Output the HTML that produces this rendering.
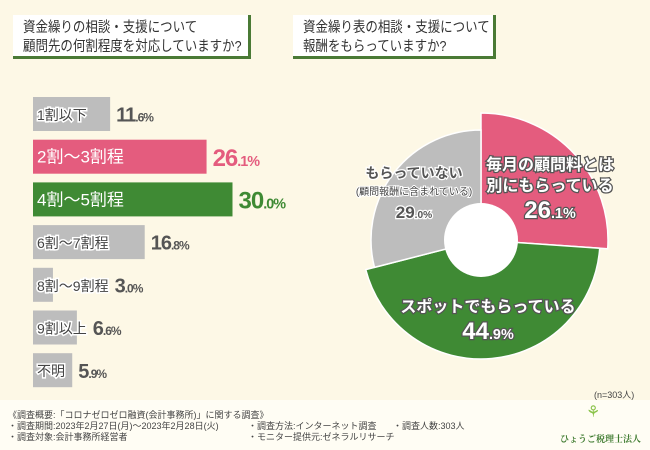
<!DOCTYPE html>
<html><head><meta charset="utf-8"><style>
body{margin:0;width:650px;height:450px;overflow:hidden;font-family:"Liberation Sans","Noto Sans CJK JP",sans-serif;}
#wrap{position:relative;width:650px;height:450px;background:#fdf8e6;}
.tbox{position:absolute;background:#fff;border-right:3px solid #4a7a35;border-bottom:3px solid #4a7a35;color:#333;font-size:14.5px;line-height:19px;padding:4px 0 0 10px;box-sizing:border-box;white-space:nowrap;overflow:hidden;}
.tbox span{display:inline-block;transform:scaleX(0.86);transform-origin:left;}
#footer{position:absolute;left:0;top:400px;width:650px;height:50px;background:#fffdf4;font-size:9px;color:#444;}
.f{position:absolute;white-space:nowrap;}
</style></head><body>
<div id="wrap">
<div class="tbox" style="left:13px;top:15px;width:238px;height:44px"><span>資金繰りの相談・支援について</span><br><span>顧問先の何割程度を対応していますか?</span></div>
<div class="tbox" style="left:293px;top:15px;width:203px;height:44px"><span>資金繰り表の相談・支援について</span><br><span>報酬をもらっていますか?</span></div>
<svg id="chart" width="650" height="400" style="position:absolute;left:0;top:0"></svg>
<div id="footer">
<div class="f" style="left:594px;top:-12px;font-size:9px">(n=303人)</div>
<div class="f" style="left:8px;top:8px">《調査概要:「コロナゼロゼロ融資(会計事務所)」に関する調査》</div>
<div class="f" style="left:8px;top:19px">・調査期間:2023年2月27日(月)〜2023年2月28日(火)</div>
<div class="f" style="left:8px;top:30px">・調査対象:会計事務所経営者</div>
<div class="f" style="left:248px;top:19px">・調査方法:インターネット調査</div>
<div class="f" style="left:248px;top:30px">・モニター提供元:ゼネラルリサーチ</div>
<div class="f" style="left:393px;top:19px">・調査人数:303人</div>
<div class="f" style="left:586px;top:2px;color:#8bc34a;font-size:16px">⚘</div>
<div class="f" style="left:560px;top:32px;color:#3d7a2e;font-size:9px;font-family:'Liberation Serif','Noto Serif CJK SC',serif;font-weight:bold">ひょうご税理士法人</div>
</div>
</div>
<script>
const barLabels=["1割以下","2割〜3割程","4割〜5割程","6割〜7割程","8割〜9割程","9割以上","不明"];
const barValues=[11.6,26.1,30.0,16.8,3.0,6.6,5.9];
const pieLabels=["毎月の顧問料とは\n別にもらっている","スポットでもらっている","もらっていない"];
const pieValues=[26.1,44.9,29.0];
const NS="http://www.w3.org/2000/svg";
const svg=document.getElementById('chart');
function mk(t,a,p){const e=document.createElementNS(NS,t);for(const k in a)e.setAttribute(k,a[k]);(p||svg).appendChild(e);return e;}
const x0=33,pxPer=6.65,y0=97,pitch=42.7,bh=34;
const colors=barValues.map((v,i)=>i===1?"#e45c7e":i===2?"#3f8a34":"#bdbdbd");
const vcol=barValues.map((v,i)=>i===1?"#e45c7e":i===2?"#3f8a34":"#555");
barValues.forEach((v,i)=>{
 const y=y0+i*pitch,w=v*pxPer;
 const r=mk('rect',{x:x0,y:y,width:w,height:bh,fill:colors[i]});
 
 
 const hl=(i===1||i===2);
 const lt=mk('text',{x:x0+4,y:y+bh/2+6,'font-size':hl?17:14,fill:hl?"#fff":"#444",stroke:hl?"none":"#fff","stroke-width":3,"paint-order":"stroke"});
 lt.textContent=barLabels[i];
 
 
 const lw=lt.getComputedTextLength();
 const vx=Math.max(x0+w,x0+4+lw)+6;
 const big=hl?24:20;
 const vt=mk('text',{x:vx,y:y+bh/2+big*0.38,fill:vcol[i],'font-weight':'bold','font-size':big,'letter-spacing':'-1'});
 const s=v.toFixed(1).split('.');
 vt.innerHTML=s[0]+'<tspan font-size="'+(big*0.6)+'">.'+s[1]+'%</tspan>';
 
 
});
const cx=481,cy=240,radii=[127,119,110],pcol=["#e45c7e","#3f8a34","#bdbdbd"];
const tot=pieValues.reduce((a,b)=>a+b,0);
let a0=-Math.PI/2;
pieValues.forEach((v,i)=>{
 const a1=a0+v/tot*2*Math.PI,R=radii[i];
 const p=`M${cx},${cy}L${cx+R*Math.cos(a0)},${cy+R*Math.sin(a0)}A${R},${R} 0 ${a1-a0>Math.PI?1:0} 1 ${cx+R*Math.cos(a1)},${cy+R*Math.sin(a1)}Z`;
 const e=mk('path',{d:p,fill:pcol[i],stroke:'#fff','stroke-width':1.5});
 
 
 a0=a1;
});
const hole=mk('circle',{cx:cx,cy:cy,r:37,fill:'#fff'});


const lpos=[[550,170],[488,312],[414,178]];
pieValues.forEach((v,i)=>{
 const [lx,ly]=lpos[i];
 const g=mk('g',{});
 
 
 const lines=pieLabels[i].split('\n');
 const fs=i===2?14:16;
 const fill=i===2?'#555':'#fff',st=i===2?'#fff':'#555';
 lines.forEach((l,k)=>{const t=mk('text',{x:lx,y:ly+k*21,'text-anchor':'middle','font-size':fs,'font-weight':'bold',fill:fill,stroke:st,'stroke-width':2.5,'paint-order':'stroke'},g);t.textContent=l;});
 let vy=ly+lines.length*21+6;
 if(i===2){const t=mk('text',{x:lx,y:ly+17,'text-anchor':'middle','font-size':10,fill:'#444',stroke:'#fff','stroke-width':2,'paint-order':'stroke'},g);t.textContent='(顧問報酬に含まれている)';vy=ly+40;}
 const s=v.toFixed(1).split('.');
 const big=i===2?17:24;
 const t=mk('text',{x:lx,y:vy,'text-anchor':'middle','font-size':big,'font-weight':'bold',fill:fill,stroke:st,'stroke-width':2.5,'paint-order':'stroke'},g);
 t.innerHTML=s[0]+'<tspan font-size="'+(big*0.6)+'">.'+s[1]+'%</tspan>';
});
</script>
</body></html>
